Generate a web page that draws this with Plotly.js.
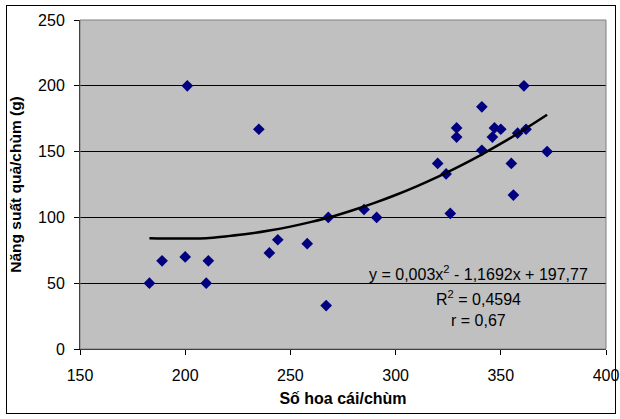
<!DOCTYPE html>
<html>
<head>
<meta charset="utf-8">
<script src="https://cdn.plot.ly/plotly-3.0.1.min.js"></script>
<style>
  html, body { margin: 0; padding: 0; background: #fff; }
  #wrap { position: relative; width: 620px; height: 419px; }
  #chart { position: absolute; left: 0; top: 0; width: 620px; height: 419px; }
  #frame { position: absolute; left: 6px; top: 5px; width: 608px; height: 407px; border: 1px solid #000; pointer-events: none; }
</style>
</head>
<body>
<div id="wrap">
  <div id="chart"></div>
  <div id="frame"></div>
</div>
<script>
// Observed points: number of female flowers per cluster vs fruit yield per cluster (g)
const flowersX = [183, 189, 200, 201, 210, 211, 235, 240, 244, 258, 268, 267, 285, 291, 320, 324, 326, 329, 329, 341, 341, 346, 347, 350, 355, 356, 358, 361, 362, 372];
const yieldY   = [50,  67,  70,  200, 50,  67,  167, 73,  83,  80,  100, 33,  106, 100, 141, 133, 103, 168, 161, 184, 151, 161, 168, 167, 141, 117, 164, 200, 167, 150];

// Polynomial trendline
const trendX = [183, 190, 200, 210, 220, 230, 240, 250, 260, 270, 280, 290, 300, 310, 320, 330, 340, 350, 360, 372];
const trendY = [84.2, 84.0, 84.0, 84.2, 85.7, 87.5, 90.0, 93.0, 96.6, 100.7, 105.6, 111.0, 117.0, 123.6, 130.8, 138.6, 147.0, 156.0, 165.7, 178.0];

const xTicks = [150, 200, 250, 300, 350, 400];
const yTicks = [0, 50, 100, 150, 200, 250];

const eqLines = ["y = 0,003x<sup>2</sup> - 1,1692x + 197,77", "R<sup>2</sup> = 0,4594", "r = 0,67"];

const FONT = "Liberation Sans, Arial, sans-serif";

const traces = [
  {
    x: flowersX, y: yieldY, type: "scatter", mode: "markers",
    marker: { symbol: "diamond", size: 9, color: "#000080" },
    hoverinfo: "x+y", showlegend: false
  },
  {
    x: trendX, y: trendY, type: "scatter", mode: "lines",
    line: { color: "#000", width: 2.5, shape: "spline" },
    showlegend: false, hoverinfo: "skip"
  }
];

const layout = {
  width: 620, height: 419,
  margin: { l: 80, r: 14, t: 20, b: 70 },
  paper_bgcolor: "#fff",
  plot_bgcolor: "#c0c0c0",
  font: { family: FONT, size: 16, color: "#000" },
  showlegend: false,
  xaxis: {
    range: [150, 400], tickvals: xTicks, ticktext: xTicks.map(String),
    showgrid: false, zeroline: false,
    showline: true, linecolor: "#000", linewidth: 1,
    ticks: "outside", ticklen: 5, tickcolor: "#000",
    ticklabelstandoff: 7,
    tickfont: { family: FONT, size: 16 },
    title: { text: "<b>Số hoa cái/chùm</b>", font: { family: FONT, size: 16 }, standoff: 9 }
  },
  yaxis: {
    range: [0, 250], tickvals: yTicks, ticktext: yTicks.map(String),
    showgrid: true, gridcolor: "#000", gridwidth: 1,
    zeroline: false,
    showline: true, linecolor: "#000", linewidth: 1,
    ticks: "outside", ticklen: 5, tickcolor: "#000",
    ticklabelstandoff: 6,
    tickfont: { family: FONT, size: 16 },
    title: { text: "<b>Năng suất quả/chùm (g)</b>", font: { family: FONT, size: 15.5 }, standoff: 12 }
  },
  shapes: [
    { type: "rect", xref: "paper", yref: "paper", x0: 0, x1: 1, y0: 0, y1: 1,
      line: { color: "#808080", width: 1 }, layer: "above" }
  ],
  annotations: [
    { x: 339.6, y: 58, xref: "x", yref: "y", text: eqLines[0], showarrow: false,
      font: { family: FONT, size: 16 }, xanchor: "center", yanchor: "middle" },
    { x: 339.6, y: 38.8, xref: "x", yref: "y", text: eqLines[1], showarrow: false,
      font: { family: FONT, size: 16 }, xanchor: "center", yanchor: "middle" },
    { x: 339.6, y: 21.5, xref: "x", yref: "y", text: eqLines[2], showarrow: false,
      font: { family: FONT, size: 16 }, xanchor: "center", yanchor: "middle" }
  ]
};

Plotly.newPlot("chart", traces, layout, { displayModeBar: false, staticPlot: true });
</script>
</body>
</html>
